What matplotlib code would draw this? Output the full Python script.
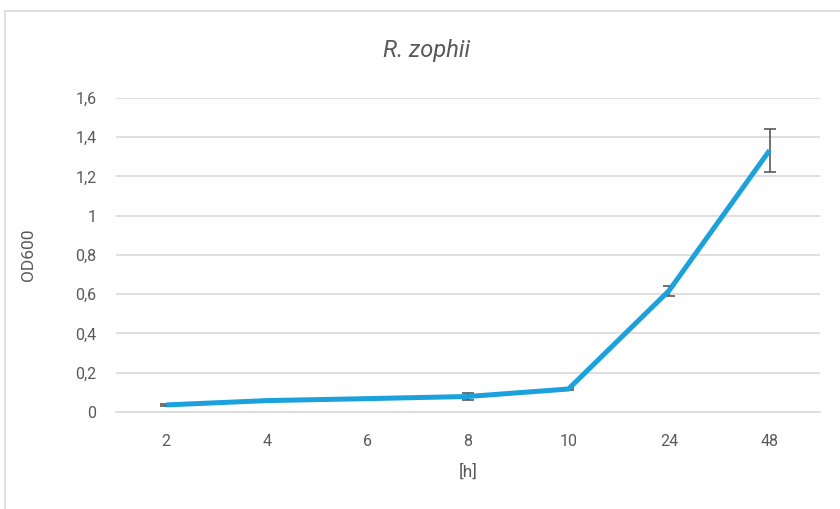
import matplotlib
matplotlib.use('Agg')
import matplotlib.pyplot as plt
import numpy as np

# time points (categories) and OD600 readings
hours = ['2', '4', '6', '8', '10', '24', '48']
od600 = [0.036, 0.058, 0.068, 0.079, 0.117, 0.618, 1.333]
od_err = [0.004, 0.003, 0.003, 0.018, 0.005, 0.025, 0.11]
y_ticks = [0, 0.2, 0.4, 0.6, 0.8, 1.0, 1.2, 1.4, 1.6]
y_labels = ['0', '0,2', '0,4', '0,6', '0,8', '1', '1,2', '1,4', '1,6']

plt.rcParams['font.family'] = ['Roboto', 'DejaVu Sans']
gray = '#595959'

fig = plt.figure(figsize=(8.4, 5.09), dpi=100)
ax = fig.add_axes([0.138, 0.1906, 0.838, 0.6169])

# chart area border
fig.patches.append(plt.Rectangle((5 / 840, -0.01), 1.0, 1 - 11 / 509 + 0.01,
                                 transform=fig.transFigure, fill=False,
                                 edgecolor='#d9d9d9', linewidth=1.2))

x = np.arange(len(hours))
ax.errorbar(x, od600, yerr=od_err, fmt='none', ecolor='#595959',
            elinewidth=1.2, capsize=4, capthick=1.2, zorder=2)
ax.plot(x, od600, color='#1BA1DB', linewidth=3.6, solid_capstyle='butt', zorder=3)

ax.set_xlim(-0.5, len(hours) - 0.5)
ax.set_ylim(0, 1.6)
ax.set_xticks(x)
ax.set_xticklabels(hours)
ax.set_yticks(y_ticks)
ax.set_yticklabels(y_labels)
ax.yaxis.grid(True, color='#d9d9d9', linewidth=1.2)
ax.set_axisbelow(True)
for s in ax.spines.values():
    s.set_visible(False)
ax.spines['bottom'].set_visible(True)
ax.spines['bottom'].set_color('#d9d9d9')
ax.spines['bottom'].set_linewidth(1.2)
ax.tick_params(axis='both', length=0, labelsize=11.5, labelcolor=gray)
ax.tick_params(axis='x', pad=16)
ax.tick_params(axis='y', pad=14)

# title is centred on the whole chart area, not the plot area
fig.text(427 / 840, 1 - 50 / 509, 'R. zophii', fontsize=17, style='italic',
         color=gray, ha='center', va='center')
ax.set_xlabel('[h]', fontsize=12.5, color=gray, labelpad=10)
ax.set_ylabel('OD600', fontsize=12.5, color=gray, labelpad=28)

fig.savefig('out.png', dpi=100)
